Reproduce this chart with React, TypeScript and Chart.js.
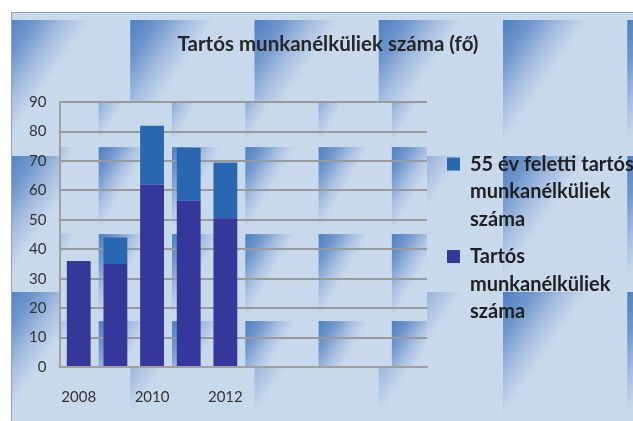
import React, { useEffect, useRef } from 'react';
import { Chart, registerables } from 'chart.js';

Chart.register(...registerables);

// ---- data ----
const CATEGORIES = ['2008', '2009', '2010', '2011', '2012', '', '', '', '', ''];
const LONG_TERM_UNEMPLOYED = [36, 35, 62, 56.5, 50.5, null, null, null, null, null];
const OVER_55_LONG_TERM = [null, 9, 20, 18, 19, null, null, null, null, null];
const TITLE = 'Tartós munkanélküliek száma (fő)';
const LEGEND_LONG_TERM = ['Tartós', 'munkanélküliek', 'száma'];
const LEGEND_OVER_55 = ['55 év feletti tartós', 'munkanélküliek', 'száma'];
const Y_MIN = 0;
const Y_MAX = 90;
const Y_STEP = 10;

const LEGEND_LINES = [LEGEND_LONG_TERM, LEGEND_OVER_55];

const LIGHT = '#c9d9ec';

function drawTiles(
  ctx: CanvasRenderingContext2D,
  left: number, top: number, right: number, bottom: number,
  ox: number, oy: number, tw: number, th: number, gx: number, gy: number
) {
  ctx.fillStyle = LIGHT;
  ctx.fillRect(left, top, right - left, bottom - top);
  let sx = ox;
  while (sx > left) sx -= tw;
  let sy = oy;
  while (sy > top) sy -= th;
  for (let x = sx; x < right; x += tw) {
    for (let y = sy; y < bottom; y += th) {
      const g = ctx.createLinearGradient(x, y, x + gx, y + gy);
      g.addColorStop(0, '#4e80c1');
      g.addColorStop(0.35, '#7097cd');
      g.addColorStop(0.7, '#a8bfe1');
      g.addColorStop(1, LIGHT);
      ctx.fillStyle = g;
      ctx.fillRect(x, y, tw, th);
    }
  }
}

const tiledBackground = {
  id: 'tiledBackground',
  beforeDraw(chart: any) {
    const { ctx, width, height, chartArea } = chart;
    ctx.save();
    drawTiles(ctx, 0, 0, width, height, -6, 7, 124.25, 136, 58, 39.5);
    const { left, top, right, bottom } = chartArea;
    ctx.beginPath();
    ctx.rect(left, top, right - left, bottom - top);
    ctx.clip();
    drawTiles(ctx, left, top, right, bottom, left - 35, top - 42, 73.3, 87, 37, 22);
    ctx.restore();
  },
};

export default function App() {
  const ref = useRef<HTMLCanvasElement | null>(null);

  useEffect(() => {
    if (!ref.current) return;
    const tickFont = { family: 'Lato', size: 15 };
    const chart = new Chart(ref.current, {
      type: 'bar',
      data: {
        labels: CATEGORIES,
        datasets: [
          {
            label: LEGEND_LONG_TERM.join(' '),
            data: LONG_TERM_UNEMPLOYED,
            backgroundColor: '#35379a',
            barPercentage: 0.65,
            categoryPercentage: 1,
            yAxisID: 'y',
          },
          {
            label: LEGEND_OVER_55.join(' '),
            data: OVER_55_LONG_TERM,
            backgroundColor: '#2a67b1',
            barPercentage: 0.65,
            categoryPercentage: 1,
            yAxisID: 'y',
          },
        ],
      },
      options: {
        responsive: false,
        animation: false,
        devicePixelRatio: 1,
        layout: { padding: { left: 3, right: 10, top: 0, bottom: 14 } },
        plugins: {
          title: {
            display: true,
            text: TITLE,
            color: '#262626',
            font: { family: 'Lato', size: 20.5, weight: 'bold' },
            padding: { top: 19.5, bottom: 45 },
          },
          legend: {
            position: 'right',
            align: 'center',
            fullSize: false,
            reverse: true,
            maxWidth: 204,
            title: { display: true, text: '', padding: 0, font: { size: 14, lineHeight: 1 } },
            labels: {
              boxWidth: 13,
              boxHeight: 13,
              padding: 10,
              color: '#1f1f1f',
              font: { family: 'Lato', size: 20, weight: 'bold', lineHeight: 27.5 / 20 },
              generateLabels: (c: any) => {
                const items = Chart.defaults.plugins.legend.labels.generateLabels(c);
                return items.map((it: any) => ({ ...it, text: LEGEND_LINES[it.datasetIndex] }));
              },
            },
          },
          tooltip: { enabled: false },
        },
        scales: {
          x: {
            type: 'category',
            stacked: true,
            offset: true,
            grid: { display: false },
            border: { display: true, color: '#a0a0a0', width: 2 },
            ticks: {
              autoSkip: false,
              maxRotation: 0,
              padding: 13,
              color: '#333333',
              font: tickFont,
              callback: function (this: any, v: any, i: number) {
                return i % 2 === 0 ? this.getLabelForValue(v) : '';
              },
            },
          },
          y: {
            stacked: true,
            min: Y_MIN,
            max: Y_MAX,
            ticks: { stepSize: Y_STEP, padding: 14, color: '#333333', font: tickFont },
            grid: { color: '#9a9a9a', lineWidth: 2, drawTicks: false },
            border: { display: true, color: '#a0a0a0', width: 2 },
          },
          gap: {
            type: 'linear',
            position: 'right',
            display: true,
            grid: { display: false, drawTicks: false },
            ticks: { display: false },
            border: { display: false },
            afterFit: (s: any) => {
              s.width = 10;
            },
          },
        },
      } as any,
      plugins: [tiledBackground],
    });
    return () => chart.destroy();
  }, []);

  return (
    <div style={{ position: 'fixed', left: 0, top: 0, width: 633, height: 421, overflow: 'hidden', background: '#fff' }}>
      <div
        style={{
          position: 'absolute',
          left: 11,
          top: 12,
          width: 700,
          height: 500,
          borderLeft: '1px solid #9e9e9e',
          borderTop: '1px solid #9e9e9e',
        }}
      />
      <canvas
        ref={ref}
        width={639}
        height={420}
        style={{ position: 'absolute', left: 12, top: 13, display: 'block' }}
      />
    </div>
  );
}
